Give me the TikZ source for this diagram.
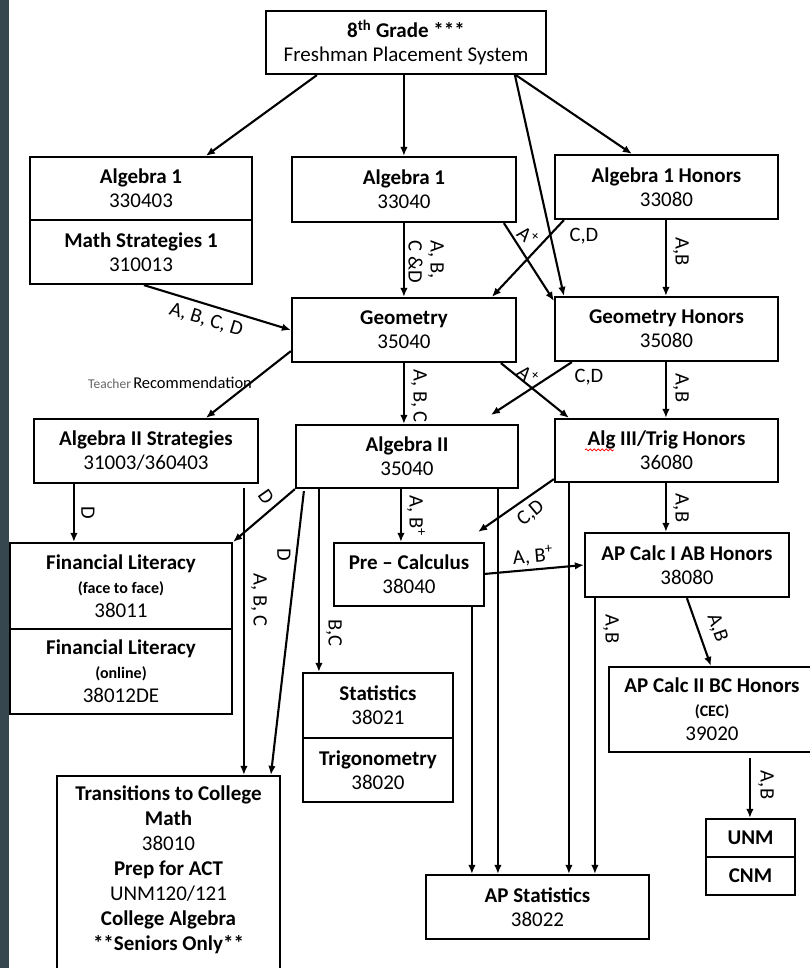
\documentclass[tikz,border=0pt]{standalone}
\usepackage{fontspec}
\setmainfont{Carlito}
\usetikzlibrary{arrows.meta,calc,decorations.pathmorphing}
\definecolor{stripcol}{RGB}{55,71,79}
\newcommand\placebox[6]{\node[box,minimum width=#4pt,minimum height=#5pt] (#1) at ({#2+#4/2},{#3+#5/2}) {#6};}
\begin{document}
\begin{tikzpicture}[x=1pt,y=-1pt,
  box/.style={draw, line width=2.2pt, inner sep=0pt, align=center, font=\fontsize{21}{24}\selectfont},
  conn/.style={line width=2.1pt, -{Latex[length=9pt,width=7.5pt]}},
  lbl/.style={font=\fontsize{20.5}{22}\selectfont, inner sep=0pt, align=left},
  small/.style={font=\fontsize{16}{20}\selectfont\bfseries}
]
\clip (0,0) rectangle (810,968);
\fill[white] (0,0) rectangle (810,968);
\fill[stripcol] (0,0) rectangle (9,968);

\placebox{top}{266}{11}{280}{63}{\textbf{8\textsuperscript{th} Grade ***}\\Freshman Placement System}
\placebox{alg1L}{30}{157}{222}{63}{\textbf{Algebra 1}\\330403}
\placebox{ms1}{30}{220}{222}{64}{\textbf{Math Strategies 1}\\310013}
\placebox{alg1M}{292}{157}{224}{65}{\textbf{Algebra 1}\\33040}
\placebox{alg1H}{555}{155}{223}{64}{\textbf{Algebra 1 Honors}\\33080}
\placebox{geo}{292}{298}{224}{64}{\textbf{Geometry}\\35040}
\placebox{geoH}{555}{297}{223}{64}{\textbf{Geometry Honors}\\35080}
\placebox{alg2S}{34}{419}{224}{64}{\textbf{Algebra II Strategies}\\31003/360403}
\placebox{alg2}{296}{425}{222}{63}{\textbf{Algebra II}\\35040}
\placebox{alg3}{555}{419}{223}{63}{\textbf{Alg III/Trig Honors}\\36080}
\placebox{finA}{10}{543}{222}{86}{\textbf{Financial Literacy}\\{\fontsize{16}{20}\selectfont\bfseries (face to face)}\\38011}
\placebox{finB}{10}{629}{222}{85}{\textbf{Financial Literacy}\\{\fontsize{16}{20}\selectfont\bfseries (online)}\\38012DE}
\placebox{precalc}{334}{543}{150}{63}{\textbf{Pre – Calculus}\\38040}
\placebox{calc1}{585}{533}{204}{64}{\textbf{AP Calc I AB Honors}\\38080}
\placebox{calc2}{609}{667}{206}{85}{\textbf{AP Calc II BC Honors}\\{\fontsize{16}{20}\selectfont\bfseries (CEC)}\\39020}
\placebox{stat}{303}{673}{150}{65}{\textbf{Statistics}\\38021}
\placebox{trig}{303}{738}{150}{64}{\textbf{Trigonometry}\\38020}
\placebox{trans}{57}{776}{223}{205}{}
\node[align=center, inner sep=0pt, font=\fontsize{21}{25}\selectfont] (transtext) at (168.5,870)
  {\textbf{Transitions to College}\\\textbf{Math}\\38010\\\textbf{Prep for ACT}\\UNM120/121\\\textbf{College Algebra}\\\textbf{**Seniors Only**}};
\placebox{apstat}{426}{875}{223}{64}{\textbf{AP Statistics}\\38022}
\placebox{unm}{706}{819}{89}{38}{\textbf{UNM}}
\placebox{cnm}{706}{857}{89}{38}{\textbf{CNM}}

% spell-check squiggle
\draw[red, line width=0.7pt, decorate, decoration={snake, amplitude=1pt, segment length=4pt}]
  ($(alg3.north west)+(31,32)$) -- ($(alg3.north west)+(60,32)$);

% teacher recommendation label
\node[anchor=west, inner sep=0pt] (tr) at (88,383)
  {{\fontsize{13.5}{15}\selectfont\color{gray!80!black}Teacher} {\fontsize{16.5}{18}\selectfont Recommendation}};

% connectors from top
\draw[conn] ($(top.south west)+(52,0)$) -- ($(alg1L.north west)+(177,0)$);
\draw[conn] ($(top.south west)+(139,0)$) -- ($(alg1M.north west)+(113,0)$);
\draw[conn] ($(top.south west)+(251,0)$) -- ($(alg1H.north west)+(78,0)$);
\draw[conn] ($(top.south west)+(250,0)$) -- ($(geoH.north west)+(10,0)$);

% to geometry level
\draw[conn] ($(alg1M.south west)+(113,0)$) -- ($(geo.north west)+(113,0)$);
\node[lbl, rotate=-90] (l5) at (426,262) {A, B,\\C \&D};
\draw[conn] ($(alg1M.south west)+(213,0)$) -- ($(geoH.north west)+(0,5)$);
\node[lbl, rotate=-40] (l6) at (528,236) {A\textsuperscript{+}};
\draw[conn] ($(alg1H.south west)+(10,0)$) -- ($(geo.north west)+(201,0)$);
\node[lbl] (l7) at (584,236) {C,D};
\draw[conn] ($(alg1H.south west)+(112,0)$) -- ($(geoH.north west)+(112,0)$);
\node[lbl, rotate=-90] (l8) at (681,252) {A,B};
\draw[conn] ($(ms1.south west)+(115,0)$) -- (geo.west);
\node[lbl, rotate=-17] (l9) at (206,320) {A, B, C, D};

% to algebra II level
\draw[conn] ($(geo.south west)+(0,-12)$) -- ($(alg2S.north west)+(173,0)$);
\draw[conn] ($(geo.south west)+(113,0)$) -- ($(alg2.north west)+(109,0)$);
\node[lbl, rotate=-90] (l11) at (419,396) {A, B, C};
\draw[conn] ($(geo.south west)+(210,0)$) -- ($(alg3.north west)+(15,0)$);
\node[lbl, rotate=-40] (l12) at (528,375) {A\textsuperscript{+}};
\draw[conn] ($(geoH.south west)+(18,0)$) -- ($(alg2.north west)+(196,-9)$);
\node[lbl] (l13) at (589,377) {C,D};
\draw[conn] ($(geoH.south west)+(112,0)$) -- ($(alg3.north west)+(112,0)$);
\node[lbl, rotate=-90] (l14) at (681,388) {A,B};

% from algebra II strategies
\draw[conn] ($(alg2S.south west)+(41,0)$) -- ($(finA.north west)+(65,0)$);
\node[lbl, rotate=-90] (l15) at (88,513) {D};
\draw[conn] ($(alg2S.south west)+(211,4)$) -- ($(trans.north west)+(188,0)$);
\node[lbl, rotate=-90] (l16) at (259,600) {A, B, C};

% from algebra II
\draw[conn] (alg2.south west) -- (finA.north east);
\node[lbl, rotate=-55] (l17) at (266,497) {D};
\draw[conn] ($(alg2.south west)+(9,2)$) -- ($(trans.north west)+(215,0)$);
\node[lbl, rotate=-90] (l18) at (284,555) {D};
\draw[conn] ($(alg2.south west)+(24,0)$) -- ($(stat.north west)+(17,0)$);
\node[lbl, rotate=-90] (l19) at (334,633) {B,C};
\draw[conn] ($(alg2.south west)+(106,0)$) -- ($(precalc.north west)+(68,0)$);
\node[lbl, rotate=-90] (l20) at (416,516) {A, B\textsuperscript{+}};
\draw[conn] ($(alg2.south west)+(203,0)$) -- ($(apstat.north west)+(73,0)$);

% to AP statistics
\draw[conn] ($(precalc.south west)+(139,0)$) -- ($(apstat.north west)+(47,0)$);
\draw[conn] ($(alg3.south west)+(15,0)$) -- ($(apstat.north west)+(144,0)$);
\draw[conn] ($(calc1.south west)+(11,0)$) -- ($(apstat.north west)+(170,0)$);
\node[lbl, rotate=-90] (l24) at (611,629) {A,B};

% from alg III / trig
\draw[conn] ($(alg3.south west)+(0,-4)$) -- ($(precalc.north east)+(-7,-10)$);
\node[lbl, rotate=40] (l25) at (531,513) {C,D};
\draw[conn] ($(alg3.south west)+(112,0)$) -- ($(calc1.north west)+(82,0)$);
\node[lbl, rotate=-90] (l26) at (681,508) {A,B};

% pre-calc to calc I
\draw[conn] ($(precalc.north east)+(0,32)$) -- (calc1.west);
\node[lbl, rotate=5] (l27) at (533,556) {A, B\textsuperscript{+}};

% calc I to calc II
\draw[conn] ($(calc1.south west)+(103,0)$) -- ($(calc2.north west)+(103,0)$);
\node[lbl, rotate=-71] (l28) at (717,628) {A,B};

% calc II to UNM
\draw[conn] ($(calc2.south west)+(142,5)$) -- ($(unm.north west)+(45,0)$);
\node[lbl, rotate=-90] (l29) at (766,785) {A,B};
\end{tikzpicture}
\end{document}
